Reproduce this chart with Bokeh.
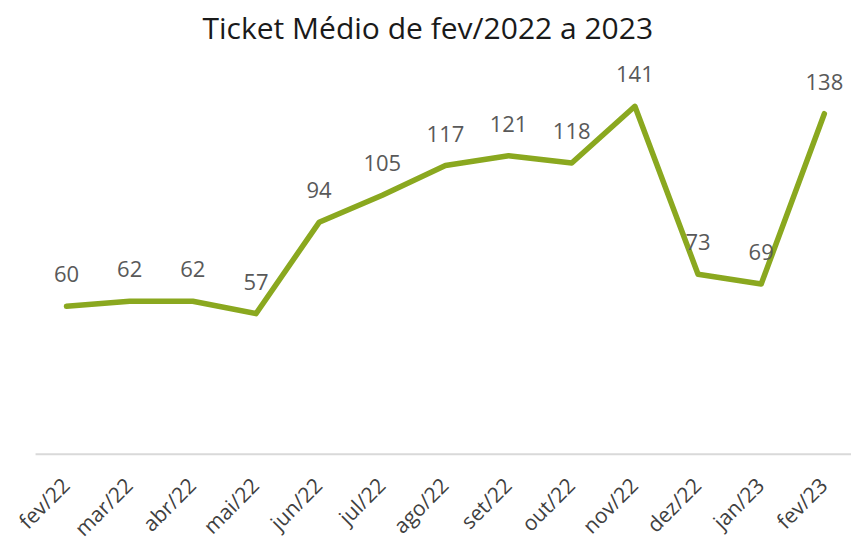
from math import pi
from bokeh.plotting import figure
from bokeh.models import ColumnDataSource, Range1d, Title
from bokeh.core.properties import value
from bokeh.embed import file_html
from bokeh.resources import INLINE

months = ["fev/22", "mar/22", "abr/22", "mai/22", "jun/22", "jul/22", "ago/22",
          "set/22", "out/22", "nov/22", "dez/22", "jan/23", "fev/23"]
ticket = [60, 62, 62, 57, 94, 105, 117, 121, 118, 141, 73, 69, 138]
title_text = "Ticket Médio de fev/2022 a 2023"

xs = list(range(len(months)))
src = ColumnDataSource(dict(x=xs, y=ticket, lab=[str(v) for v in ticket],
                            base=[0] * len(xs), month=months))

p = figure(width=851, height=541, output_backend="svg", toolbar_location=None,
           x_range=Range1d(-1.045, 12.43), y_range=Range1d(-35.3, 163.2),
           x_axis_location=None, y_axis_location=None,
           min_border_left=0, min_border_right=0, min_border_top=18,
           min_border_bottom=0)
p.title = Title(text=title_text, align="left", text_font="Open Sans",
                text_font_size="30px", text_font_style="normal",
                text_color="#1a1a1a", offset=202, standoff=8)
p.outline_line_color = None
p.xgrid.grid_line_color = None
p.ygrid.grid_line_color = None

# baseline (category axis line), spanning half a category beyond the ends
p.segment(x0=[xs[0] - 0.49], y0=[0], x1=[xs[-1] + 0.5], y1=[0],
          line_color="#d9d9d9", line_width=2)

p.line("x", "y", source=src, line_color="#8AA81F", line_width=5.5,
       line_cap="round", line_join="round")
p.text("x", "y", text="lab", source=src, text_align="center",
       text_baseline="middle", y_offset=-32, text_font=value("Open Sans"),
       text_font_size="22px", text_color="#595959")

# category labels, rotated 45 degrees below the baseline
p.text("x", "base", text="month", source=src, angle=pi / 4,
       text_align="right", text_baseline="middle", x_offset=-1, y_offset=27,
       text_font=value("Open Sans"), text_font_size="21px",
       text_color="#404040")

open("out.html", "w").write(file_html(p, INLINE))
